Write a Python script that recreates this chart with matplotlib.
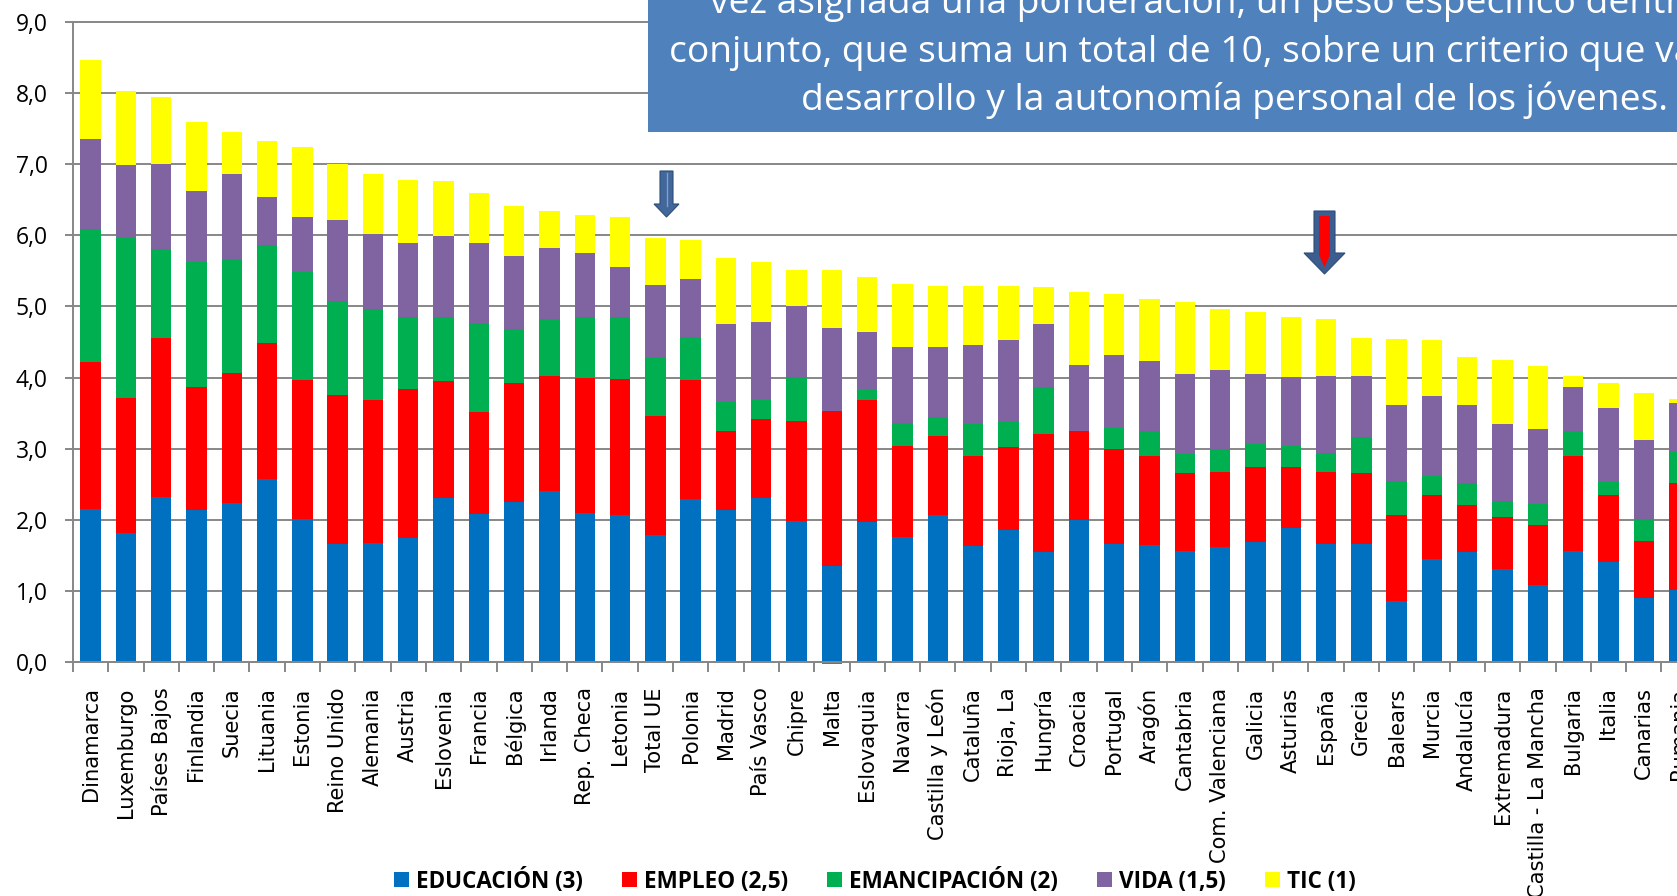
import numpy as np
import matplotlib
matplotlib.use("Agg")
import matplotlib.pyplot as plt
from matplotlib import font_manager as fm
from matplotlib.patches import Rectangle, Polygon
from matplotlib.lines import Line2D

# ---------------- data ----------------
categories = ["Dinamarca", "Luxemburgo", "Países Bajos", "Finlandia", "Suecia", "Lituania",
              "Estonia", "Reino Unido", "Alemania", "Austria", "Eslovenia", "Francia",
              "Bélgica", "Irlanda", "Rep. Checa", "Letonia", "Total UE", "Polonia",
              "Madrid", "País Vasco", "Chipre", "Malta", "Eslovaquia", "Navarra",
              "Castilla y León", "Cataluña", "Rioja, La", "Hungría", "Croacia", "Portugal",
              "Aragón", "Cantabria", "Com. Valenciana", "Galicia", "Asturias", "España",
              "Grecia", "Balears", "Murcia", "Andalucía", "Extremadura",
              "Castilla - La Mancha", "Bulgaria", "Italia", "Canarias", "Rumania"]

educacion = [2.15, 1.81, 2.32, 2.13, 2.23, 2.57, 2.01, 1.65, 1.67, 1.74, 2.31, 2.08,
             2.25, 2.40, 2.09, 2.07, 1.79, 2.29, 2.14, 2.30, 1.98, 1.35, 1.96, 1.76,
             2.07, 1.63, 1.86, 1.55, 2.00, 1.65, 1.64, 1.56, 1.62, 1.68, 1.88, 1.66,
             1.66, 0.86, 1.45, 1.55, 1.30, 1.08, 1.56, 1.40, 0.90, 1.01]
empleo = [2.07, 1.90, 2.23, 1.74, 1.84, 1.91, 1.96, 2.11, 2.01, 2.10, 1.64, 1.43,
          1.67, 1.62, 1.91, 1.91, 1.67, 1.68, 1.11, 1.11, 1.41, 2.18, 1.72, 1.28,
          1.10, 1.27, 1.16, 1.66, 1.25, 1.34, 1.26, 1.10, 1.05, 1.06, 0.86, 1.01,
          1.00, 1.21, 0.90, 0.66, 0.74, 0.85, 1.34, 0.94, 0.80, 1.51]
emancipacion = [1.87, 2.26, 1.26, 1.76, 1.60, 1.39, 1.51, 1.32, 1.29, 1.01, 0.90, 1.26,
                0.76, 0.80, 0.85, 0.87, 0.82, 0.60, 0.41, 0.27, 0.62, -0.03, 0.15, 0.32,
                0.28, 0.45, 0.36, 0.66, 0.00, 0.30, 0.35, 0.27, 0.33, 0.32, 0.30, 0.27,
                0.50, 0.48, 0.27, 0.30, 0.22, 0.29, 0.35, 0.19, 0.31, 0.43]
vida = [1.27, 1.02, 1.20, 0.99, 1.20, 0.67, 0.78, 1.14, 1.05, 1.04, 1.14, 1.13,
        1.03, 1.01, 0.90, 0.70, 1.02, 0.81, 1.10, 1.10, 1.00, 1.17, 0.81, 1.07,
        0.98, 1.11, 1.15, 0.88, 0.93, 1.02, 0.98, 1.12, 1.11, 0.99, 0.97, 1.08,
        0.86, 1.07, 1.12, 1.10, 1.08, 1.05, 0.62, 1.04, 1.11, 0.69]
tic = [1.11, 1.04, 0.94, 0.98, 0.58, 0.79, 0.98, 0.78, 0.85, 0.89, 0.77, 0.70,
       0.70, 0.51, 0.54, 0.71, 0.66, 0.55, 0.92, 0.85, 0.50, 0.82, 0.77, 0.88,
       0.86, 0.83, 0.76, 0.53, 1.02, 0.86, 0.87, 1.02, 0.86, 0.87, 0.84, 0.80,
       0.54, 0.92, 0.79, 0.68, 0.91, 0.89, 0.15, 0.35, 0.66, 0.06]

series_labels = ["EDUCACIÓN (3)", "EMPLEO (2,5)", "EMANCIPACIÓN (2)", "VIDA (1,5)", "TIC (1)"]
series_colors = ["#0070C0", "#FF0000", "#00B050", "#8064A2", "#FFFF00"]
yticks = [0, 1, 2, 3, 4, 5, 6, 7, 8, 9]
ytick_labels = ["0,0", "1,0", "2,0", "3,0", "4,0", "5,0", "6,0", "7,0", "8,0", "9,0"]
box_lines = ["vez asignada una ponderación, un peso específico dentro del",
             "conjunto, que suma un total de 10, sobre un criterio que valora el",
             "desarrollo y la autonomía personal de los jóvenes."]

# ---------------- fonts ----------------
avail = {f.name for f in fm.fontManager.ttflist}
def pick(*names):
    for n in names:
        if n in avail:
            return n
    return "DejaVu Sans"
narrow = pick("Liberation Sans Narrow", "Open Sans", "Liberation Sans")
sans = pick("Open Sans", "Lato", "DejaVu Sans")
catfont = "DejaVu Sans"

W, H = 1677, 896
fig = plt.figure(figsize=(W / 100, H / 100), dpi=100)
renderer = fig.canvas.get_renderer()

def fit_size(text, family, weight, target_px):
    t = fig.text(0, 0, text, fontsize=20, family=family, weight=weight)
    w = t.get_window_extent(renderer).width
    t.remove()
    return 20 * target_px / w

def fx(px):
    return px / W
def fy(py):
    return 1 - py / H

# ---------------- axes ----------------
ax_left, ax_zero, ax_top = 72.9, 661.7, 22.3
slot = 35.3
n = len(categories)
ax = fig.add_axes([fx(ax_left), fy(ax_zero), n * slot / W, (ax_zero - ax_top) / H])
x = np.arange(n)

pos_b = np.zeros(n)
neg_b = np.zeros(n)
handles = []
for vals, col, lab in zip([educacion, empleo, emancipacion, vida, tic], series_colors, series_labels):
    v = np.array(vals, dtype=float)
    bottom = np.where(v >= 0, pos_b, neg_b)
    ax.bar(x, v, width=0.58, bottom=bottom, color=col, edgecolor="none",
           zorder=2, clip_on=False, label=lab)
    pos_b += np.where(v > 0, v, 0)
    neg_b += np.where(v < 0, v, 0)
    handles.append(Rectangle((0, 0), 1, 1, facecolor=col, edgecolor="none"))

gray = "#878787"
ax.set_xlim(-0.5, n - 0.5)
ax.set_ylim(0, 9)
ax.set_axisbelow(True)
ax.yaxis.grid(True, color=gray, linewidth=1.4)
for gl in ax.get_ygridlines():
    gl.set_clip_on(False)
for s in ["top", "right"]:
    ax.spines[s].set_visible(False)
for s in ["left", "bottom"]:
    ax.spines[s].set_color(gray)
    ax.spines[s].set_linewidth(1.4)

ysize = fit_size("9,0", sans, "normal", 32)
ax.set_yticks(yticks)
ax.set_yticklabels(ytick_labels, fontsize=ysize, family=sans, color="#000000")
ax.tick_params(axis="y", direction="out", length=5.8, width=1.4, color=gray, pad=12.3)

csize = fit_size("Dinamarca", catfont, "normal", 114)
ax.set_xticks(np.arange(-0.5, n, 1.0))
ax.set_xticklabels([])
ax.set_xticks(x, minor=True)
ax.set_xticklabels(categories, minor=True, rotation=90, fontsize=csize,
                   family=catfont, ha="center", va="top")
ax.tick_params(axis="x", which="major", direction="out", length=7, width=1.4, color=gray)
ax.tick_params(axis="x", which="minor", length=0, pad=18.5)

# ---------------- legend ----------------
lsize = fit_size("EDUCACIÓN (3)", sans, "bold", 168)
em = lsize * 100 / 72
fig.legend(handles, series_labels, ncol=5, loc="center",
           bbox_to_anchor=(fx(875), fy(881)), frameon=False,
           prop={"family": sans, "weight": "bold", "size": lsize},
           handlelength=15 / em, handleheight=15 / em, handletextpad=7 / em,
           columnspacing=39 / em, borderpad=0, borderaxespad=0)

# ---------------- text box ----------------
box = Rectangle((fx(648), fy(132.5)), fx(1800) - fx(648), fy(-20) - fy(132.5),
                transform=fig.transFigure, facecolor="#4F81BD", edgecolor="none", zorder=5)
fig.add_artist(box)
bsize = fit_size(box_lines[2], narrow, "normal", 864)
for txt, x0, yb in zip(box_lines, [710, 668.7, 801], [13, 61.7, 110]):
    fig.text(fx(x0), fy(yb), txt, color="white", fontsize=bsize, family=narrow,
             ha="left", va="baseline", zorder=6)

# ---------------- arrows ----------------
def poly(points, **kw):
    p = Polygon([(fx(a), fy(b)) for a, b in points], closed=True,
                transform=fig.transFigure, zorder=7, **kw)
    fig.add_artist(p)

poly([(660, 171), (673, 171), (673, 204), (679, 204), (666.5, 217), (654, 204), (660, 204)],
     facecolor="#41679B", edgecolor="#2E4D78", linewidth=0.8)
fig.add_artist(Line2D([fx(666.5), fx(666.5)], [fy(173), fy(206)], color="#7F9FCC",
                      linewidth=1.0, transform=fig.transFigure, zorder=8))

poly([(1314, 211), (1335, 211), (1335, 253), (1345, 253), (1324.5, 274), (1304, 253), (1314, 253)],
     facecolor="#3B5D8F", edgecolor="#2E4D78", linewidth=0.8)
poly([(1319, 216), (1330, 216), (1330, 255), (1324.5, 267), (1319, 255)],
     facecolor="#FF0000", edgecolor="none")

fig.savefig("out.png", dpi=100)
